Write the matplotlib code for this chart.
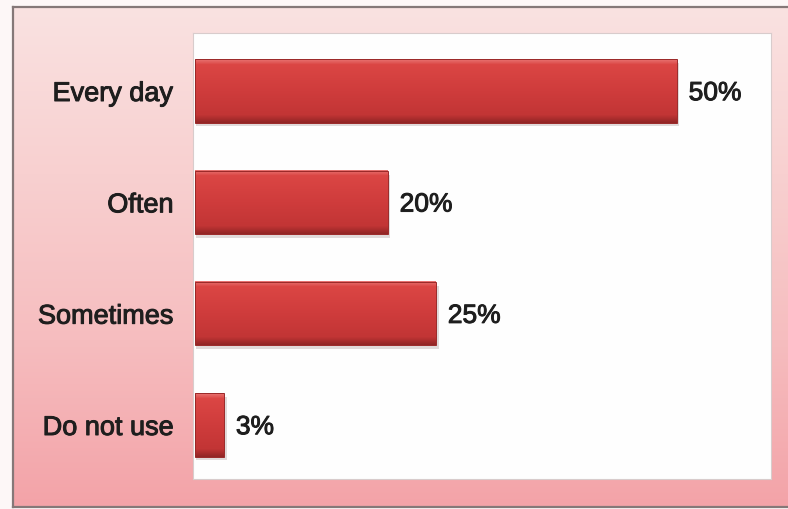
import matplotlib
matplotlib.use("Agg")
import matplotlib.pyplot as plt
import matplotlib.patheffects as pe
import numpy as np
from matplotlib.colors import LinearSegmentedColormap

categories = ["Every day", "Often", "Sometimes", "Do not use"]
values = [50, 20, 25, 3]
value_labels = ["50%", "20%", "25%", "3%"]

plt.rcParams['font.family'] = ['Liberation Sans', 'DejaVu Sans']

fig = plt.figure(figsize=(7.88, 5.09), dpi=100)
fig.patch.set_facecolor("#fdf7f7")

# pink panel behind the chart, light at the top and deeper at the bottom
bg = fig.add_axes([13 / 788, 2 / 509, 1.0, 500 / 509])
pink = LinearSegmentedColormap.from_list(
    "pink", ["#fae2e1", "#f8d0d0", "#f6bdbf", "#f3a3a8"])
bg.imshow(np.linspace(0, 1, 256).reshape(-1, 1), cmap=pink, aspect="auto",
          extent=[0, 1, 0, 1])
bg.set_xticks([])
bg.set_yticks([])
for s in bg.spines.values():
    s.set_color("#857878")
    s.set_linewidth(1.6)

ax = fig.add_axes([193 / 788, 30 / 509, 578 / 788, 446 / 509])
ax.set_facecolor("#fefefe")

bar_cmap = LinearSegmentedColormap.from_list(
    "bar", [(0.0, "#e87270"), (0.08, "#db4644"), (0.5, "#cf3c3c"),
            (0.88, "#c23535"), (1.0, "#922626")])
grad = np.linspace(0, 1, 64).reshape(-1, 1)
thick = [pe.withStroke(linewidth=0.7, foreground="#1e1e1e")]
h = 0.566
for i, (v, lab) in enumerate(zip(values, value_labels)):
    # soft shadow under each bar
    ax.add_patch(plt.Rectangle((0.15, i - h / 2 + 0.035), v + 0.15, h,
                               color="#a89898", alpha=0.35, lw=0, zorder=1))
    ax.imshow(grad, cmap=bar_cmap, aspect="auto", zorder=2,
              extent=[0, v, i + h / 2, i - h / 2])
    ax.add_patch(plt.Rectangle((0, i - h / 2), v, h, fill=False,
                               ec="#9a2828", lw=0.7, zorder=3))
    ax.text(v + 1.25, i + 0.02, lab, va="center", ha="left", fontsize=19,
            color="#1e1e1e", path_effects=thick)

ax.set_xlim(-0.2, 59.8)
ax.set_ylim(3.485, -0.521)
ax.set_xticks([])
ax.set_yticks(range(len(categories)))
ax.set_yticklabels(categories, fontsize=19.5, color="#1e1e1e")
for t in ax.get_yticklabels():
    t.set_path_effects(thick)
ax.tick_params(axis="y", length=0, pad=14)
for s in ax.spines.values():
    s.set_color("#d8cccc")
    s.set_linewidth(0.8)

fig.savefig("out.png", dpi=100)
